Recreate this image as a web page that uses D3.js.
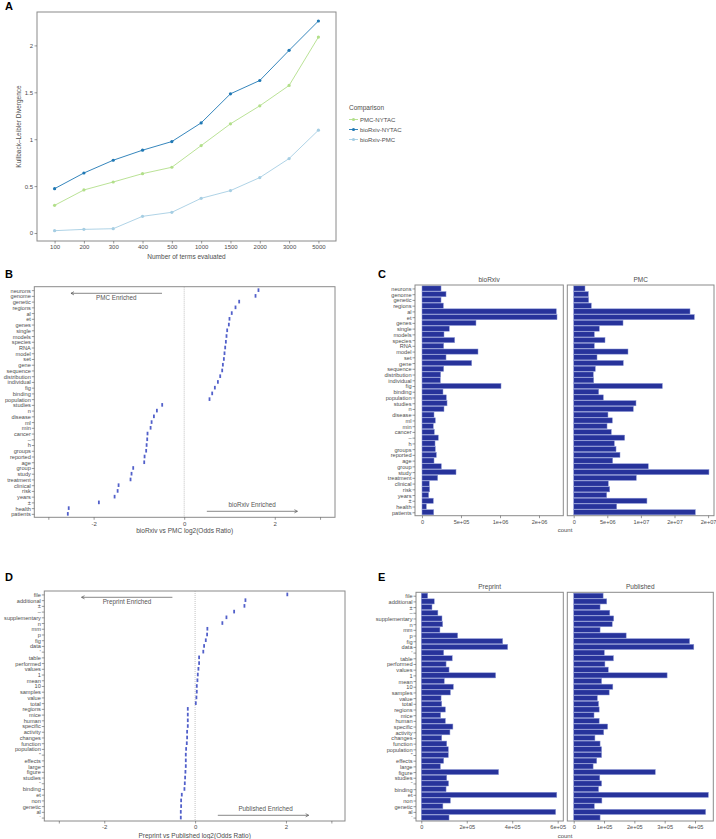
<!DOCTYPE html>
<html><head><meta charset="utf-8">
<script src="https://cdn.jsdelivr.net/npm/d3@7"></script>
<style>
body{margin:0;background:#fff;}
svg{font-family:"Liberation Sans",Arial,sans-serif;}
</style></head>
<body>
<script>
// ---------- Panel A data ----------
const termSizes = ["100","200","300","400","500","1000","1500","2000","3000","5000"];
const klPMC_NYTAC = [0.295,0.459,0.544,0.633,0.701,0.932,1.164,1.356,1.573,2.089];
const klBio_NYTAC = [0.473,0.640,0.776,0.883,0.975,1.174,1.484,1.626,1.947,2.260];
const klBio_PMC   = [0.025,0.039,0.046,0.178,0.221,0.370,0.452,0.591,0.794,1.096];
const seriesNames = ["PMC-NYTAC","bioRxiv-NYTAC","bioRxiv-PMC"];
const seriesColors = ["#b2df8a","#1f78b4","#a6cee3"];
const aYTicks = [0,0.5,1,1.5,2];
const aYTickLabels = ["0","0.5","1","1.5","2"];

// ---------- Panel B / C data ----------
const bTerms = ["neurons","genome","genetic","regions","al","et","genes","single","models","species","RNA","model","set","gene","sequence","distribution","individual","fig","binding","population","studies","n","disease","ml","min","cancer","–","h","groups","reported","age","group","study","treatment","clinical","risk","years","±","health","patients"];
const bLogOR = [1.64,1.575,1.214,1.133,1.05,1.0,0.986,0.949,0.934,0.92,0.905,0.89,0.876,0.854,0.839,0.795,0.744,0.677,0.618,0.559,-0.486,-0.603,-0.669,-0.72,-0.742,-0.81,-0.817,-0.83,-0.84,-0.875,-0.883,-1.126,-1.163,-1.185,-1.449,-1.47,-1.537,-1.884,-2.55,-2.57];
const cBioRxivCount = [244000,308000,244000,274000,1722000,1731000,692000,350000,282000,419000,278000,718000,308000,637000,278000,239000,235000,1013000,269000,312000,321000,282000,154000,171000,145000,158000,209000,167000,171000,184000,154000,248000,436000,201000,94000,98000,85000,145000,56000,150000];
const cPMCCount = [1680000,2180000,2230000,2620000,17310000,17950000,7340000,3810000,3070000,4660000,3070000,8080000,3470000,7380000,3220000,2920000,2980000,13190000,3720000,4410000,9270000,8870000,5100000,5750000,4960000,5600000,7590000,6050000,6300000,6890000,5800000,11100000,20130000,9320000,5150000,5360000,4910000,10900000,6400000,18100000];
const bXTicks = [-3,-2,0,2,3];
const bXTickLabels = ["","-2","0","2",""];
const cBioTicks = [0,500000,1000000,1500000];
const cBioTickLabels = ["0","5e+05","1e+06","2e+06"];
const cPMCTicks = [0,5000000,10000000,15000000,20000000];
const cPMCTickLabels = ["0","5e+06","1e+07","2e+07","2e+07"];

// ---------- Panel D / E data ----------
const dTerms = ["file","additional","±","–","supplementary","n","mm","p","fig","data","’","table","performed","values","1","mean","10","samples","value","total","regions","mice","human","specific","activity","changes","function","population","”","effects","large","figure","studies","“","binding","et","non","genetic","al","‘"];
const dLogOR = [2.03,1.108,1.086,0.859,0.69,0.60,0.27,0.264,0.235,0.198,0.18,0.088,0.088,0.073,0.059,0.051,0.037,0.037,0.029,0.015,-0.161,-0.161,-0.161,-0.161,-0.176,-0.176,-0.183,-0.198,-0.205,-0.205,-0.205,-0.213,-0.22,-0.227,-0.235,-0.293,-0.308,-0.308,-0.315,-0.315];
const ePreprintCount = [28000,57000,47000,73000,91000,94000,82000,160000,358000,380000,98500,136000,109000,122000,327000,101000,141000,128000,87000,90000,106000,85000,106000,139000,126000,90000,112000,119000,119000,98500,84000,340000,112000,120000,109000,596000,128000,95000,591000,122000];
const ePublishedCount = [97000,109000,87000,119000,132000,127000,87000,173000,382000,396000,101000,131000,103000,114000,308000,92000,129000,117000,78000,82000,84000,67000,84000,112000,99000,70000,87000,92000,92000,76000,64000,269000,86000,92000,82000,444000,93000,68000,435000,87000];
const dXTicks = [-3,-2,0,2,3];
const dXTickLabels = ["","-2","0","2",""];
const ePreTicks = [0,200000,400000,600000];
const ePreTickLabels = ["0","2e+05","4e+05","6e+05"];
const ePubTicks = [0,100000,200000,300000,400000];
const ePubTickLabels = ["0","1e+05","2e+05","3e+05","4e+05"];

// ---------- drawing ----------
const W = 716, H = 839;
const svg = d3.select("body").append("svg").attr("width", W).attr("height", H);
svg.append("rect").attr("width", W).attr("height", H).attr("fill", "#fff");

const TXT = "#4d4d4d", TICK = "#555", BORDER = "#8a8a8a";
const BAR = "#27339b", BAR_EDGE = "#8c97d6", MARK = "#3f4fc4";

function letter(t, x, y){
  svg.append("text").attr("x", x).attr("y", y).text(t)
    .attr("font-size", 11).attr("font-weight", "bold").attr("fill", "#000")
    .attr("font-family", "Liberation Sans, Arial, sans-serif");
}
function box(x0, y0, x1, y1){
  svg.append("rect").attr("x", x0).attr("y", y0).attr("width", x1 - x0).attr("height", y1 - y0)
    .attr("fill", "none").attr("stroke", BORDER).attr("stroke-width", 1);
}
function styleAxis(g, fs){
  g.select(".domain").remove();
  g.selectAll(".tick line").attr("stroke", TICK).attr("stroke-width", 0.6);
  g.selectAll(".tick text").attr("fill", TXT).attr("font-size", fs)
    .attr("font-family", "Liberation Sans, Arial, sans-serif");
}
function bottomAxis(scale, ticks, labels, y, fs){
  const g = svg.append("g").attr("transform", `translate(0,${y})`)
    .call(d3.axisBottom(scale).tickValues(ticks).tickFormat((d, i) => labels[i]).tickSize(2.5).tickPadding(1.5));
  styleAxis(g, fs);
  return g;
}
function leftCatAxis(scale, x, fs){
  const g = svg.append("g").attr("transform", `translate(${x},0)`)
    .call(d3.axisLeft(scale).tickSize(2.5).tickPadding(1));
  styleAxis(g, fs);
  g.selectAll(".tick text").attr("dy", "0.35em");
  return g;
}
function label(t, x, y, fs, opts = {}){
  const e = svg.append("text").attr("x", x).attr("y", y).text(t)
    .attr("font-size", fs).attr("fill", opts.fill || TXT)
    .attr("text-anchor", opts.anchor || "middle");
  if (opts.rotate) e.attr("transform", `rotate(-90,${x},${y})`);
  return e;
}
function arrow(x0, x1, y){
  const dir = Math.sign(x1 - x0);
  svg.append("line").attr("x1", x0).attr("x2", x1).attr("y1", y).attr("y2", y)
    .attr("stroke", "#555").attr("stroke-width", 0.7);
  svg.append("path").attr("d", `M${x1 - dir*3},${y-1.6}L${x1},${y}L${x1 - dir*3},${y+1.6}`)
    .attr("fill", "none").attr("stroke", "#555").attr("stroke-width", 0.7);
}

// ===== Panel A =====
letter("A", 5, 10);
{
  const x0 = 37, x1 = 336, y0 = 12, y1 = 241;
  const x = d3.scalePoint().domain(termSizes).range([x0, x1]).padding(0.6);
  const y = d3.scaleLinear().domain([-0.085, 2.356]).range([y1, y0]);
  box(x0, y0, x1, y1);
  const gy = svg.append("g").attr("transform", `translate(${x0},0)`)
    .call(d3.axisLeft(y).tickValues(aYTicks).tickFormat((d, i) => aYTickLabels[i]).tickSize(2.5).tickPadding(1.5));
  styleAxis(gy, 6);
  bottomAxis(x, termSizes, termSizes, y1, 6);
  label("Number of terms evaluated", (x0 + x1) / 2, 259, 6.5);
  label("Kullback\u2013Leibler Divergence", 21, (y0 + y1) / 2, 6.5, {rotate: true});
  const all = [klPMC_NYTAC, klBio_NYTAC, klBio_PMC];
  const line = d3.line().x((d, i) => x(termSizes[i])).y(d => y(d));
  all.forEach((vals, k) => {
    svg.append("path").attr("d", line(vals)).attr("fill", "none")
      .attr("stroke", seriesColors[k]).attr("stroke-width", 0.9);
    svg.append("g").selectAll("circle").data(vals).join("circle")
      .attr("cx", (d, i) => x(termSizes[i])).attr("cy", d => y(d)).attr("r", 1.6)
      .attr("fill", seriesColors[k]);
  });
  // legend
  label("Comparison", 349, 110, 6.5, {anchor: "start"});
  seriesNames.forEach((n, k) => {
    const yy = 119.5 + k * 10;
    svg.append("line").attr("x1", 349).attr("x2", 358).attr("y1", yy).attr("y2", yy)
      .attr("stroke", seriesColors[k]).attr("stroke-width", 0.9);
    svg.append("circle").attr("cx", 353.5).attr("cy", yy).attr("r", 1.6).attr("fill", seriesColors[k]);
    label(n, 360, yy + 2.2, 6, {anchor: "start"});
  });
}

// ===== dot plot helper (B, D) =====
function dotPanel(terms, vals, x0, x1, y0, y1, dom, ticks, tickLabels, title, titleY, leftTxt, rightTxt, arr){
  const x = d3.scaleLinear().domain(dom).range([x0, x1]);
  const y = d3.scalePoint().domain(terms).range([y0, y1]).padding(0.6);
  box(x0, y0, x1, y1);
  svg.append("line").attr("x1", x(0)).attr("x2", x(0)).attr("y1", y0).attr("y2", y1)
    .attr("stroke", "#999").attr("stroke-width", 0.6).attr("stroke-dasharray", "1,1");
  leftCatAxis(y, x0, 5.6);
  bottomAxis(x, ticks, tickLabels, y1, 6);
  label(title, (x0 + x1) / 2, titleY, 6.5);
  svg.append("g").selectAll("rect").data(vals).join("rect")
    .attr("x", d => x(d) - 0.9).attr("y", (d, i) => y(terms[i]) - 1.8)
    .attr("width", 1.8).attr("height", 3.6).attr("fill", MARK).attr("opacity", 0.9);
  // annotations
  arrow(x(arr.l[0]), x(arr.l[1]), arr.ly);
  label(leftTxt, x(arr.lt), arr.ly + 6.5, 6.3, {fill: "#555"});
  arrow(x(arr.r[0]), x(arr.r[1]), arr.ry);
  label(rightTxt, x(arr.rt), arr.ry - 4, 6.3, {fill: "#555"});
}

// ===== Panel B =====
letter("B", 5, 278);
dotPanel(bTerms, bLogOR, 34.3, 335, 286.7, 517.3, [-3.31, 3.33], bXTicks, bXTickLabels,
  "bioRxiv vs PMC log2(Odds Ratio)", 533, "PMC Enriched", "bioRxiv Enriched",
  {l: [-0.49, -2.5], lt: -1.5, ly: 293.3, r: [0.5, 2.5], rt: 1.5, ry: 511.3});

// ===== Panel D =====
letter("D", 5, 581);
dotPanel(dTerms, dLogOR, 44.3, 345, 591, 821, [-3.32, 3.30], dXTicks, dXTickLabels,
  "Preprint vs Published log2(Odds Ratio)", 838, "Preprint Enriched", "Published Enriched",
  {l: [-0.5, -2.5], lt: -1.5, ly: 597.3, r: [0.5, 2.5], rt: 1.55, ry: 815.3});

// ===== bar facet helper (C, E) =====
function barFacet(terms, vals, x0, x1, y0, y1, dom, ticks, tickLabels, strip, withAxis){
  const x = d3.scaleLinear().domain(dom).range([x0, x1]);
  const y = d3.scalePoint().domain(terms).range([y0, y1]).padding(0.6);
  const bh = y.step() * 0.9;
  label(strip, (x0 + x1) / 2, y0 - 3, 6.5);
  svg.append("g").selectAll("rect").data(vals).join("rect")
    .attr("x", x(0)).attr("y", (d, i) => y(terms[i]) - bh / 2)
    .attr("width", d => x(d) - x(0)).attr("height", bh)
    .attr("fill", BAR).attr("stroke", BAR_EDGE).attr("stroke-width", 0.5);
  box(x0, y0, x1, y1);
  if (withAxis) leftCatAxis(y, x0, 5.6);
  bottomAxis(x, ticks, tickLabels, y1, 5.6);
}

// ===== Panel C =====
letter("C", 378, 278);
barFacet(bTerms, cBioRxivCount, 415, 563.3, 285, 515.7, [-89700, 1811500], cBioTicks, cBioTickLabels, "bioRxiv", true);
barFacet(bTerms, cPMCCount, 567.3, 714, 285, 515.7, [-952000, 20880000], cPMCTicks, cPMCTickLabels, "PMC", false);
label("count", 565, 532, 6);

// ===== Panel E =====
letter("E", 378, 581);
barFacet(dTerms, ePreprintCount, 416, 563.3, 592.3, 821, [-23300, 624700], ePreTicks, ePreTickLabels, "Preprint", true);
barFacet(dTerms, ePublishedCount, 567.3, 713.3, 592.3, 821, [-21100, 460300], ePubTicks, ePubTickLabels, "Published", false);
label("count", 565, 838, 6);
</script>
</body></html>
